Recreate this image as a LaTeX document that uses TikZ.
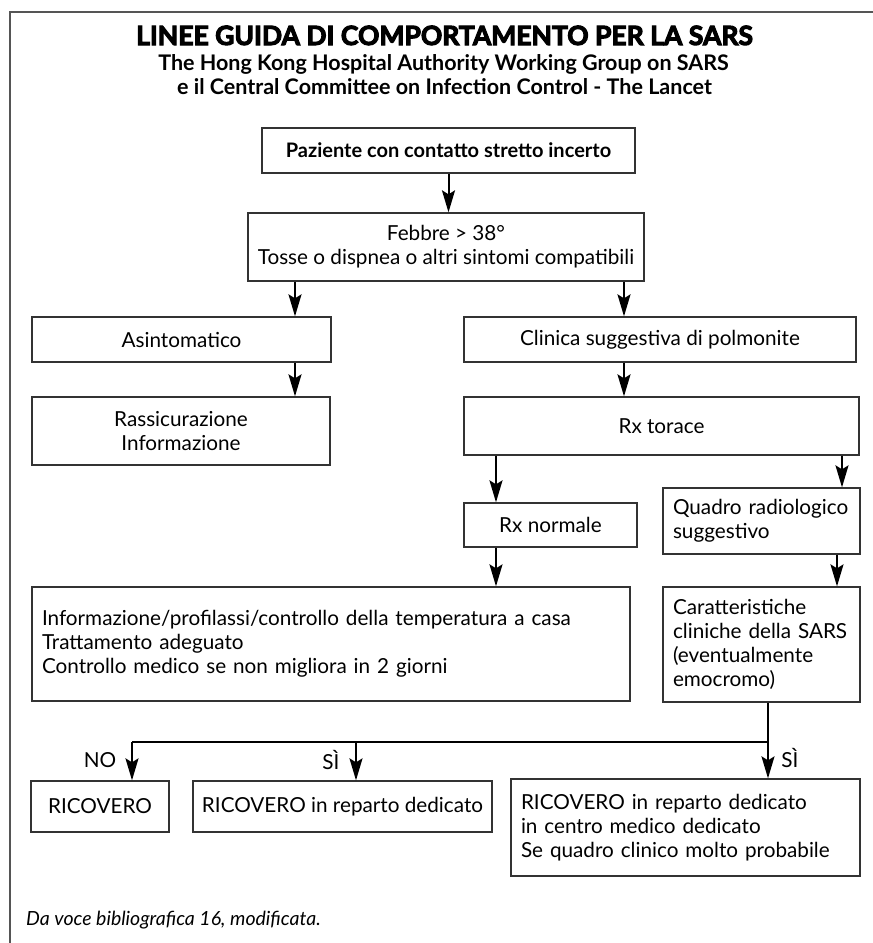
\documentclass[tikz,border=0pt]{standalone}
\usepackage{fontspec}
\setmainfont{Lato}
\newfontfamily\heavyfont{Lato}[BoldFeatures={FakeBold=4}]
\usetikzlibrary{arrows.meta}
\definecolor{boxc}{HTML}{333333}
\definecolor{framec}{HTML}{555555}
\newcommand{\bodyf}{\fontsize{20.7}{24}\selectfont}
\newcommand{\pazf}{\fontsize{20}{24}\selectfont\bfseries}
\newcommand{\subf}{\fontsize{21.5}{24}\selectfont\bfseries}
\newcommand{\titlef}{\fontsize{26.5}{28}\selectfont\heavyfont\bfseries}
\newcommand{\footf}{\fontsize{19.5}{21}\selectfont\itshape}
\tikzset{
  box/.style={draw=boxc, line width=1.3pt, inner sep=0pt, align=center, font=\bodyf},
  lbox/.style={box, align=left, inner xsep=10pt},
  arr/.style={-{Stealth[length=22pt,width=13pt,inset=4pt]}, line width=2pt},
  conn/.style={line width=2pt},
  lbl/.style={font=\bodyf, inner sep=0pt},
}
\begin{document}
\begin{tikzpicture}[x=1pt,y=-1pt]
\useasboundingbox (0,0) rectangle (873,943);
\draw[framec, line width=1.5pt] (10,943) -- (10,12) -- (873,12);

% titles
\node[anchor=base, inner sep=0pt, font=\titlef] (title) at (444.5,45) {LINEE GUIDA DI COMPORTAMENTO PER LA SARS};
\node[anchor=base, inner sep=0pt, font=\subf] (sub1) at (443.5,70) {The Hong Kong Hospital Authority Working Group on SARS};
\node[anchor=base, inner sep=0pt, font=\subf] (sub2) at (444.5,94) {e il Central Committee on Infection Control - The Lancet};

% boxes
\node[box, minimum width=373pt, minimum height=45pt, font=\pazf] (paz) at (448.5,150.5) {Paziente con contatto stretto incerto};
\node[box, minimum width=396pt, minimum height=68pt] (feb) at (446,247) {Febbre > 38°\\Tosse o dispnea o altri sintomi compatibili};
\node[box, minimum width=299pt, minimum height=45pt] (asi) at (181.5,339.5) {Asintomatico};
\node[box, minimum width=392pt, minimum height=45pt] (cli) at (660,339.5) {Clinica suggestiva di polmonite};
\node[box, minimum width=298pt, minimum height=68pt] (ras) at (181,431) {Rassicurazione\\Informazione};
\node[box, minimum width=395pt, minimum height=58pt] (rxt) at (661.5,426) {Rx torace};
\node[box, minimum width=173pt, minimum height=44pt] (rxn) at (550.5,525) {Rx normale};
\node[lbox, text width=177pt, minimum height=66pt] (qua) at (761.5,521) {\mbox{Quadro radiologico}\\\mbox{suggestivo}};
\node[lbox, text width=578pt, minimum height=114pt] (inf) at (331,644) {\mbox{Informazione/profilassi/controllo della temperatura a casa}\\\mbox{Trattamento adeguato}\\\mbox{Controllo medico se non migliora in 2 giorni}};
\node[lbox, text width=177pt, minimum height=115pt] (car) at (761.5,644.5) {\mbox{Caratteristiche}\\\mbox{cliniche della SARS}\\\mbox{(eventualmente}\\\mbox{emocromo)}};
\node[box, minimum width=138pt, minimum height=51pt] (ric1) at (100,806.5) {RICOVERO};
\node[box, minimum width=299pt, minimum height=51pt] (ric2) at (342.5,806.5) {RICOVERO in reparto dedicato};
\node[lbox, text width=329pt, minimum height=97pt] (ric3) at (685.5,827.5) {\mbox{RICOVERO in reparto dedicato}\\\mbox{in centro medico dedicato}\\\mbox{Se quadro clinico molto probabile}};

% connector columns
\coordinate (xa) at (295,0);
\coordinate (xb) at (624,0);
\coordinate (xc) at (496,0);
\coordinate (xd) at (842,0);
\coordinate (xe) at (837,0);
\coordinate (j) at (768,742);
\coordinate (bl) at (132,742);
\coordinate (bm) at (356,742);

\draw[arr] (paz.south) -- (paz.south |- feb.north);
\draw[arr] (feb.south -| xa) -- (asi.north -| xa);
\draw[arr] (feb.south -| xb) -- (cli.north -| xb);
\draw[arr] (asi.south -| xa) -- (ras.north -| xa);
\draw[arr] (cli.south -| xb) -- (rxt.north -| xb);
\draw[arr] (rxt.south -| xc) -- (rxn.north -| xc);
\draw[arr] (rxt.south -| xd) -- (qua.north -| xd);
\draw[arr] (rxn.south -| xc) -- (inf.north -| xc);
\draw[arr] (qua.south -| xe) -- (car.north -| xe);
\draw[conn] (car.south -| j) -- (j) -- (bl);
\draw[arr] (j) -- (ric3.north -| j);
\draw[arr] (bl) -- (ric1.north -| bl);
\draw[arr] (bm) -- (ric2.north -| bm);

\node[lbl] (lno) at (100,760) {NO};
\node[lbl] (lsi1) at (331,760) {SÌ};
\node[lbl] (lsi2) at (790,758) {SÌ};

\node[anchor=base west, inner sep=0pt, font=\footf] (foot) at (26,925) {Da voce bibliografica 16, modificata.};
\end{tikzpicture}
\end{document}
